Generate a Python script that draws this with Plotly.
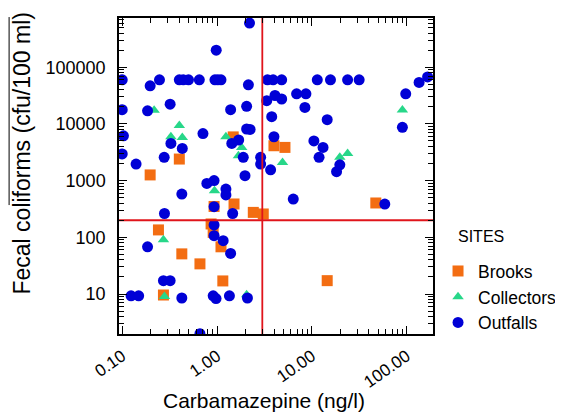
import plotly.graph_objects as go

# ---------------- data ----------------
brooks_x = [1.48, 0.40, 0.197, 1.51, 0.93, 2.41, 3.07, 0.865, 0.91, 1.10,
            0.241, 0.425, 0.66, 1.15, 0.272, 3.98, 5.2, 47.2, 14.5]
brooks_y = [5900, 2400, 1260, 387, 350, 275, 258, 172, 122, 68,
            135, 51, 34, 17, 9.6, 4120, 3850, 403, 17.2]

collectors_x = [0.217, 0.40, 0.326, 0.43, 1.24, 1.82, 1.68, 0.94, 0.272, 0.279,
                2.05, 90, 4.9, 19.7, 23.8]
collectors_y = [17500, 9400, 5940, 5780, 5940, 3850, 2750, 660, 91, 9.0,
                9.7, 17600, 2090, 2570, 3020]

outfalls_x = [2.2, 0.98, 0.10, 0.247, 0.40, 0.44, 0.50, 0.65, 0.95, 1.02,
              1.1, 3.4, 3.9, 4.8, 11.4, 15.7, 23.8, 31.5, 135, 166,
              0.197, 2.14, 0.10, 0.185, 0.32, 1.39, 2.05, 3.34, 3.77, 0.326,
              0.43, 0.103, 0.71, 1.69, 1.43, 1.89, 2.05, 2.23, 0.10, 0.14,
              0.277, 2.88, 2.88, 1.97, 0.93, 0.78, 1.24, 1.24, 0.425, 0.93,
              1.46, 0.279, 0.93, 0.93, 1.16, 1.39, 0.185, 0.272, 0.32, 0.124,
              0.149, 0.425, 0.91, 0.975, 1.35, 2.09, 0.66, 4.08, 4.8, 6.9,
              8.65, 8.44, 14.5, 97.6, 90, 3.98, 3.67, 10.5, 13.1, 11.9,
              19.7, 18.2, 6.36, 58.7]
outfalls_y = [600000, 200000, 60000, 60000, 60000, 60000, 60000, 60000, 60000, 60000,
              60000, 60000, 60000, 60000, 60000, 60000, 60000, 60000, 54000, 67500,
              47000, 49000, 17800, 17000, 22300, 17800, 20400, 25700, 13400, 4530,
              3700, 6160, 6750, 5200, 4530, 2570, 8130, 8000, 2950, 1960,
              2570, 2570, 1960, 1220, 1000, 890, 710, 560, 580, 347,
              263, 263, 165, 107, 87, 52, 68, 17.2, 17.2, 9.3,
              9.3, 8.5, 9.3, 8.3, 9.3, 8.5, 2.0, 31700, 27500, 34000,
              34000, 19500, 11900, 34000, 8700, 5940, 1550, 5000, 3850, 2570,
              1900, 1440, 473, 386]

x_threshold = 3.0      # carbamazepine threshold (ng/l)
y_threshold = 200      # fecal coliform threshold (cfu/100 ml)

x_tickvals = [0.1, 1, 10, 100]
x_ticktext = ["0.10", "1.00", "10.00", "100.00"]
y_tickvals = [10, 100, 1000, 10000, 100000]
y_ticktext = ["10", "100", "1000", "10000", "100000"]

FONT = "Liberation Sans, Arial, sans-serif"

fig = go.Figure()
fig.add_trace(go.Scatter(x=brooks_x, y=brooks_y, mode="markers", name="Brooks",
                         marker=dict(symbol="square", size=11, color="#F36D12",
                                     line=dict(width=0))))
fig.add_trace(go.Scatter(x=collectors_x, y=collectors_y, mode="markers", name="Collectors",
                         marker=dict(symbol="triangle-up", size=10, color="#27D789",
                                     line=dict(width=0))))
fig.add_trace(go.Scatter(x=outfalls_x, y=outfalls_y, mode="markers", name="Outfalls",
                         marker=dict(symbol="circle", size=11, color="#0000D6",
                                     line=dict(width=0))))

# threshold lines (clipped to the plot area)
fig.add_trace(go.Scatter(x=[x_threshold, x_threshold], y=[0.5, 1e7], mode="lines",
                         line=dict(color="#E0141B", width=1.8), showlegend=False,
                         hoverinfo="skip"))
fig.add_trace(go.Scatter(x=[0.01, 1000], y=[y_threshold, y_threshold], mode="lines",
                         line=dict(color="#E0141B", width=1.8), showlegend=False,
                         hoverinfo="skip"))

x_minor = [k * 10 ** n for n in range(-2, 3) for k in range(2, 10)]
y_minor = [k * 10 ** n for n in range(0, 6) for k in range(2, 10)]

fig.update_xaxes(type="log", range=[-1.034, 2.277],
                 tickmode="array", tickvals=x_tickvals, ticktext=x_ticktext,
                 tickangle=-35, tickfont=dict(family=FONT, size=17, color="black"),
                 ticks="inside", ticklen=8, tickwidth=1, tickcolor="black",
                 minor=dict(tickmode="array", tickvals=x_minor, ticks="inside",
                            ticklen=5, tickwidth=1, tickcolor="black", showgrid=False),
                 showline=True, linecolor="black", linewidth=1.5, mirror="ticks",
                 showgrid=False, zeroline=False, ticklabelstandoff=4)
fig.update_yaxes(type="log", range=[0.2945, 5.868],
                 tickmode="array", tickvals=y_tickvals, ticktext=y_ticktext,
                 tickfont=dict(family=FONT, size=18, color="black"),
                 ticks="inside", ticklen=8, tickwidth=1, tickcolor="black",
                 minor=dict(tickmode="array", tickvals=y_minor, ticks="inside",
                            ticklen=5, tickwidth=1, tickcolor="black", showgrid=False),
                 showline=True, linecolor="black", linewidth=1.5, mirror="ticks",
                 showgrid=False, zeroline=False, ticklabelstandoff=8)

fig.update_layout(
    width=563, height=412,
    margin=dict(l=111, r=138, t=10, b=86, pad=0, autoexpand=False),
    paper_bgcolor="white", plot_bgcolor="white",
    font=dict(family=FONT, color="black"),
    showlegend=True,
    legend=dict(x=1.016, y=0.256, xanchor="left", yanchor="top",
                font=dict(family=FONT, size=17.5, color="black"),
                bgcolor="rgba(0,0,0,0)", tracegroupgap=0),
    annotations=[
        dict(text="Fecal coliforms (cfu/100 ml)", textangle=-90, showarrow=False,
             xref="paper", yref="paper", x=-0.309, y=0.571,
             xanchor="center", yanchor="middle",
             font=dict(family=FONT, size=23, color="black")),
        dict(text="Carbamazepine (ng/l)", showarrow=False,
             xref="paper", yref="paper", x=0.463, y=-0.212,
             xanchor="center", yanchor="middle",
             font=dict(family=FONT, size=21, color="black")),
        dict(text="SITES", showarrow=False,
             xref="paper", yref="paper", x=1.073, y=0.307,
             xanchor="left", yanchor="middle",
             font=dict(family=FONT, size=16, color="black")),
    ],
    shapes=[dict(type="line", xref="paper", yref="paper",
                 x0=-0.350, x1=-0.350, y0=1.003, y1=0.408,
                 line=dict(color="black", width=1))],
)

fig.write_html("out.html")
